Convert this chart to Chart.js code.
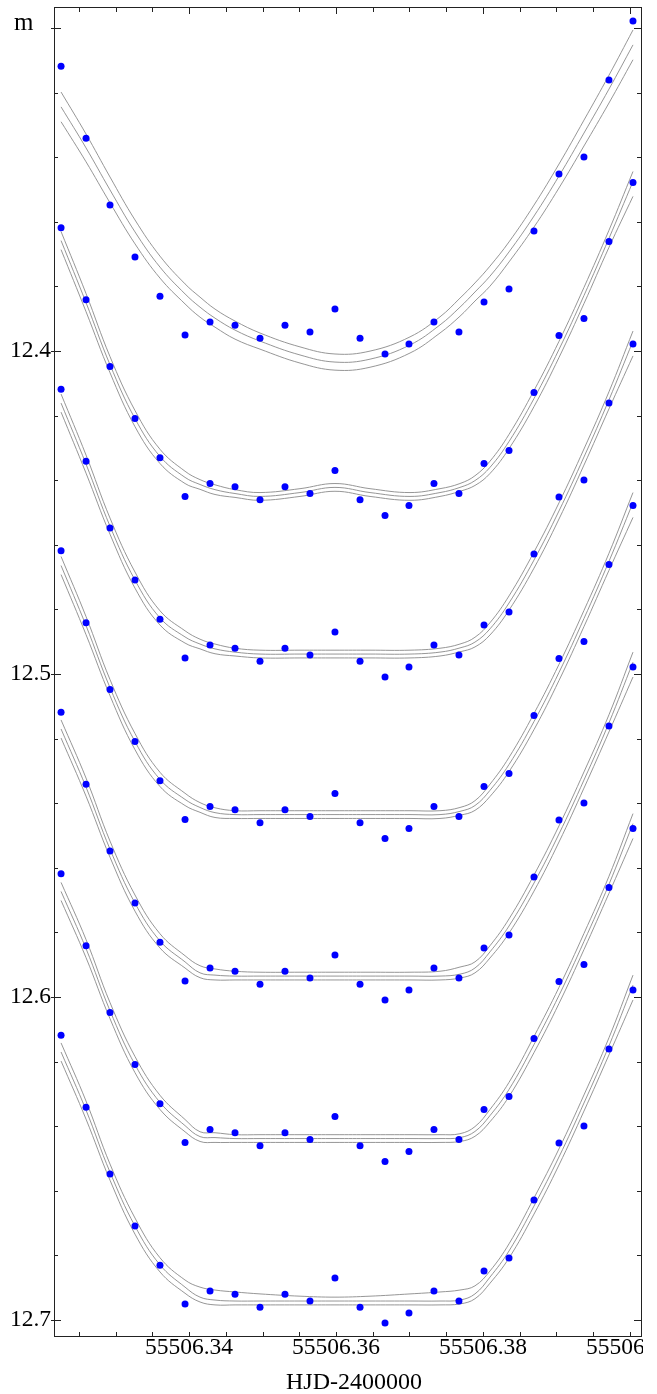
<!DOCTYPE html>
<html>
<head>
<meta charset="utf-8">
<script src="https://cdn.jsdelivr.net/npm/chart.js@4.4.1/dist/chart.umd.min.js"></script>
<style>
  html, body { margin: 0; padding: 0; background: #fff; }
  canvas { display: block; }
</style>
</head>
<body>
<canvas id="lc" width="657" height="1394"></canvas>
<script>
// observed points (first curve), each later curve is the same set shifted by 0.05 mag
const hjd = [55506.32259, 55506.32599, 55506.32925, 55506.33265, 55506.33605, 55506.33946,
  55506.34286, 55506.34626, 55506.34966, 55506.35306, 55506.35646, 55506.35986,
  55506.36327, 55506.36667, 55506.36993, 55506.37333, 55506.37673, 55506.38014,
  55506.38354, 55506.38694, 55506.39034, 55506.39374, 55506.39714, 55506.40041]
const mag = [12.3118, 12.3341, 12.3548, 12.3709, 12.3830, 12.3950, 12.3910, 12.3920,
  12.3960, 12.3920, 12.3941, 12.3870, 12.3960, 12.4009, 12.3978, 12.3910, 12.3941, 12.3848,
  12.3808, 12.3628, 12.3452, 12.3399, 12.3161, 12.2978]
const shifts = [0, 0.05, 0.10, 0.15, 0.20, 0.25, 0.30]

// model curves, read in the frame of the first curve
const modelHjd = [55506.32259, 55506.32599, 55506.32925, 55506.33265, 55506.33605, 55506.33946,
  55506.34150, 55506.34354, 55506.34626, 55506.34966, 55506.35510, 55506.35986,
  55506.36463, 55506.37007, 55506.37415, 55506.37687, 55506.37891, 55506.38095,
  55506.38354, 55506.38694, 55506.39034, 55506.39374, 55506.39714, 55506.40041]
const model1 = [12.3244, 12.3371, 12.3501, 12.3631, 12.3740, 12.3823, 12.3864, 12.3898, 12.3935, 12.3969, 12.4012, 12.4034,
  12.4025, 12.3981, 12.3919, 12.3864, 12.3817, 12.3768, 12.3693, 12.3582, 12.3458, 12.3325, 12.3189, 12.3052]
const model2 = [12.3158, 12.3350, 12.3542, 12.3709, 12.3826, 12.3891, 12.3913, 12.3929, 12.3941, 12.3950, 12.3938, 12.3922,
  12.3938, 12.3950, 12.3938, 12.3922, 12.3901, 12.3860, 12.3780, 12.3647, 12.3495, 12.3328, 12.3151, 12.2975]
const model3 = [12.3161, 12.3350, 12.3542, 12.3709, 12.3826, 12.3885, 12.3907, 12.3922, 12.3932, 12.3938, 12.3938, 12.3938,
  12.3938, 12.3938, 12.3932, 12.3919, 12.3901, 12.3860, 12.3780, 12.3647, 12.3495, 12.3328, 12.3151, 12.2969]
const model4 = [12.3164, 12.3350, 12.3542, 12.3709, 12.3826, 12.3888, 12.3913, 12.3929, 12.3935, 12.3935, 12.3935, 12.3935,
  12.3935, 12.3935, 12.3935, 12.3925, 12.3907, 12.3860, 12.3780, 12.3647, 12.3495, 12.3328, 12.3151, 12.2969]
const model5 = [12.3170, 12.3350, 12.3542, 12.3709, 12.3826, 12.3891, 12.3925, 12.3932, 12.3935, 12.3935, 12.3935, 12.3935,
  12.3935, 12.3935, 12.3935, 12.3929, 12.3910, 12.3860, 12.3780, 12.3647, 12.3495, 12.3328, 12.3151, 12.2963]
const model6 = [12.3173, 12.3350, 12.3542, 12.3709, 12.3826, 12.3898, 12.3932, 12.3935, 12.3938, 12.3938, 12.3938, 12.3938,
  12.3938, 12.3938, 12.3938, 12.3935, 12.3916, 12.3867, 12.3786, 12.3647, 12.3495, 12.3328, 12.3151, 12.2963]
const model7 = [12.3170, 12.3350, 12.3542, 12.3709, 12.3829, 12.3898, 12.3929, 12.3938, 12.3941, 12.3941, 12.3941, 12.3941,
  12.3941, 12.3941, 12.3941, 12.3938, 12.3919, 12.3867, 12.3786, 12.3647, 12.3495, 12.3328, 12.3151, 12.2963]

// offsets of the upper and lower envelope lines from the middle one (mag)
const band1 = [0.0046, 0.0043, 0.0040, 0.0037, 0.0034, 0.0031, 0.0031, 0.0028, 0.0028, 0.0025, 0.0025, 0.0025,
  0.0025, 0.0025, 0.0025, 0.0028, 0.0028, 0.0031, 0.0031, 0.0034, 0.0037, 0.0040, 0.0043, 0.0046]
const bandUp = [0.0028, 0.0028, 0.0025, 0.0025, 0.0022, 0.0019, 0.0015, 0.0015, 0.0012, 0.0012, 0.0012, 0.0012,
  0.0012, 0.0012, 0.0012, 0.0012, 0.0015, 0.0019, 0.0022, 0.0025, 0.0025, 0.0025, 0.0025, 0.0031]
const bandUp5 = [0.0028, 0.0028, 0.0025, 0.0025, 0.0022, 0.0019, 0.0022, 0.0019, 0.0015, 0.0012, 0.0012, 0.0012,
  0.0012, 0.0012, 0.0015, 0.0022, 0.0019, 0.0019, 0.0022, 0.0025, 0.0025, 0.0025, 0.0025, 0.0031]
const bandUp7 = [0.0028, 0.0028, 0.0025, 0.0025, 0.0022, 0.0022, 0.0031, 0.0031, 0.0028, 0.0022, 0.0015, 0.0012,
  0.0015, 0.0022, 0.0028, 0.0031, 0.0025, 0.0019, 0.0022, 0.0025, 0.0025, 0.0025, 0.0025, 0.0031]
const bandDown = [0.0028, 0.0028, 0.0025, 0.0025, 0.0022, 0.0019, 0.0015, 0.0015, 0.0012, 0.0012, 0.0012, 0.0012,
  0.0012, 0.0012, 0.0012, 0.0012, 0.0015, 0.0019, 0.0022, 0.0025, 0.0025, 0.0025, 0.0028, 0.0046]

const xLabelled = [55506.34, 55506.36, 55506.38, 55506.40]
const yLabelled = [12.4, 12.5, 12.6, 12.7]

const SERIF = "'Liberation Serif', 'DejaVu Serif', serif"
const models = [model1, model2, model3, model4, model5, model6, model7]
const ups = [band1, bandUp, bandUp, bandUp, bandUp5, bandUp, bandUp7]
const downs = [band1, bandDown, bandDown, bandDown, bandDown, bandDown, bandDown]
const datasets = []

models.forEach((mid, c) => {
  const up = ups[c]
  const dn = downs[c]
  const lines = [mid.map((v, i) => v - up[i]), mid, mid.map((v, i) => v + dn[i])]
  lines.forEach(line => {
    datasets.push({
      data: modelHjd.map((x, i) => ({x, y: line[i] + shifts[c]})),
      showLine: true,
      pointRadius: 0,
      borderColor: '#8a8a8a',
      borderWidth: 0.9,
      tension: 0.4,
      order: 1
    })
  })
})

shifts.forEach(s => {
  datasets.push({
    data: hjd.map((x, i) => ({x, y: mag[i] + s})),
    pointRadius: 3.5,
    pointBackgroundColor: '#0000ff',
    pointBorderWidth: 0,
    showLine: false,
    order: 0
  })
})

const frame = {
  id: 'frame',
  afterDraw(chart) {
    const {ctx, chartArea: a, scales: {x, y}} = chart
    ctx.save()
    ctx.strokeStyle = '#222'
    ctx.lineWidth = 1
    ctx.strokeRect(a.left + 0.5, a.top + 0.5, a.right - a.left, a.bottom - a.top)

    ctx.beginPath()
    y.ticks.forEach(t => {
      const py = Math.round(y.getPixelForValue(t.value)) + 0.5
      const major = Math.round(t.value * 100) % 10 === 0
      const len = major ? 7 : 4
      ctx.moveTo(a.left - (major ? 3 : 0), py); ctx.lineTo(a.left + len, py)
      ctx.moveTo(a.right, py); ctx.lineTo(a.right - len, py)
    })
    x.ticks.forEach(t => {
      const px = Math.round(x.getPixelForValue(t.value)) + 0.5
      const major = Math.round(t.value * 1000) % 20 === 0
      ctx.moveTo(px, a.bottom); ctx.lineTo(px, a.bottom - 4)
      ctx.moveTo(px, a.top); ctx.lineTo(px, a.top + (major ? 7 : 5))
    })
    ctx.stroke()

    ctx.fillStyle = '#000'
    ctx.font = '25px ' + SERIF
    ctx.textAlign = 'left'
    ctx.textBaseline = 'alphabetic'
    ctx.fillText('m', 14, 30)

    ctx.font = '24px ' + SERIF
    ctx.textAlign = 'center'
    ctx.fillText('HJD-2400000', 354, 1389)

    ctx.beginPath()
    ctx.rect(0, a.bottom, a.right + 2, chart.height - a.bottom)
    ctx.clip()
    ctx.font = '23.5px ' + SERIF
    xLabelled.forEach(v => {
      ctx.fillText(v.toFixed(2), x.getPixelForValue(v), 1354)
    })
    ctx.restore()
  }
}

new Chart(document.getElementById('lc'), {
  type: 'scatter',
  data: {datasets},
  plugins: [frame],
  options: {
    responsive: false,
    animation: false,
    devicePixelRatio: 1,
    events: [],
    layout: {padding: {top: 7, right: 16, left: 0, bottom: 0}},
    plugins: {legend: {display: false}, tooltip: {enabled: false}},
    scales: {
      x: {
        type: 'linear',
        min: 55506.32163,
        max: 55506.4015,
        grid: {display: false, drawTicks: false},
        border: {display: false},
        ticks: {display: false, stepSize: 0.005, includeBounds: false},
        afterFit(s) { s.height = 58; s.paddingLeft = 0; s.paddingRight = 0 }
      },
      y: {
        type: 'linear',
        reverse: true,
        min: 12.29347,
        max: 12.70493,
        grid: {display: false, drawTicks: false},
        border: {display: false},
        ticks: {
          stepSize: 0.02,
          includeBounds: false,
          autoSkip: false,
          padding: 3,
          color: '#000',
          font: {family: SERIF, size: 23.5},
          callback: v => yLabelled.some(t => Math.abs(t - v) < 1e-6) ? v.toFixed(1) : ''
        },
        afterFit(s) { s.width = 54; s.paddingTop = 0; s.paddingBottom = 0 }
      }
    }
  }
})
</script>
</body>
</html>
